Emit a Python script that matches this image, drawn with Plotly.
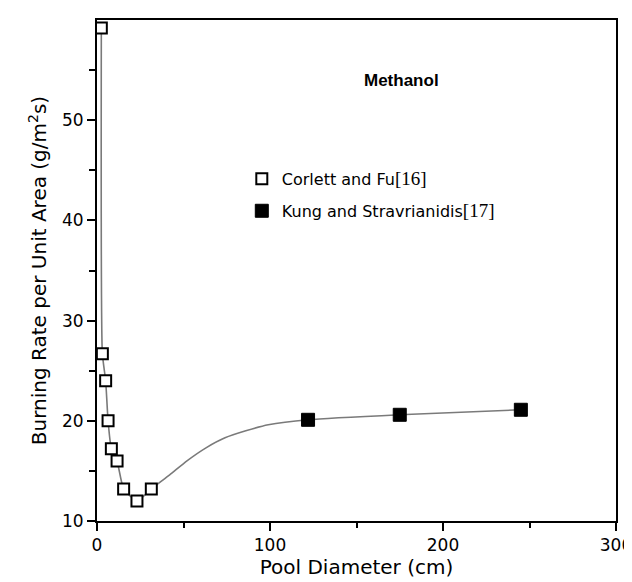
import plotly.graph_objects as go

# Corlett and Fu [16] (open squares)
cf_diam = [2.5, 3.1, 5.0, 6.4, 8.3, 11.6, 15.4, 23.1, 31.4]
cf_rate = [59.2, 26.7, 24.0, 20.0, 17.2, 16.0, 13.2, 12.0, 13.2]

# Kung and Stavrianidis [17] (filled squares)
ks_diam = [122, 175, 245]
ks_rate = [20.1, 20.6, 21.1]

# Fitted curve drawn through the data
curve_diam = [2.5, 3.1, 5.0, 6.4, 8.3, 11.6, 15.4, 23.1, 31.4, 42, 52, 63, 74, 86, 99, 122, 175, 245]
curve_rate = [59.2, 26.7, 24.0, 20.0, 17.2, 16.0, 13.2, 12.0, 13.2, 14.6, 16.0, 17.3, 18.3, 19.0, 19.6, 20.1, 20.6, 21.1]

x_ticks = [0, 100, 200, 300]
y_ticks = [10, 20, 30, 40, 50]

FONT = "DejaVu Sans, Liberation Sans, sans-serif"
BOLD = "Liberation Sans, Arial, sans-serif"
REF = '<span style="font-family:Liberation Serif;font-size:19px">[{}]</span>'

fig = go.Figure()

fig.add_trace(go.Scatter(
    x=curve_diam, y=curve_rate, mode="lines",
    line=dict(color="#7a7a7a", width=1.6, shape="spline", smoothing=0.5),
    showlegend=False, hoverinfo="skip"))

fig.add_trace(go.Scatter(
    x=cf_diam, y=cf_rate, mode="markers",
    name="Corlett and Fu" + REF.format(16),
    marker=dict(symbol="square", size=11, color="white",
                line=dict(color="black", width=2)),
    legend="legend"))

fig.add_trace(go.Scatter(
    x=ks_diam, y=ks_rate, mode="markers",
    name="Kung and Stravrianidis" + REF.format(17),
    marker=dict(symbol="square", size=13, color="black",
                line=dict(color="black", width=1)),
    legend="legend2"))

fig.add_annotation(x=176, y=54.0, xref="x", yref="y", text="<b>Methanol</b>",
                   showarrow=False, font=dict(family=BOLD, size=17, color="black"))

fig.update_layout(
    width=632, height=582,
    margin=dict(l=89, r=24, t=12, b=69),
    paper_bgcolor="white", plot_bgcolor="white",
    font=dict(family=FONT, size=16, color="black"),
    legend=dict(x=0.279, y=0.683, xanchor="left", yanchor="middle",
                bgcolor="rgba(0,0,0,0)", font=dict(family=FONT, size=16, color="black")),
    legend2=dict(x=0.279, y=0.619, xanchor="left", yanchor="middle",
                 bgcolor="rgba(0,0,0,0)", font=dict(family=FONT, size=16, color="black")),
)

fig.update_xaxes(
    range=[0, 300], tickvals=x_ticks, ticktext=[str(v) for v in x_ticks],
    showline=True, linecolor="black", linewidth=2, mirror=True,
    ticks="outside", ticklen=8, tickwidth=2, tickcolor="black",
    minor=dict(tickvals=[50, 150, 250], ticks="outside", ticklen=5, tickwidth=2, tickcolor="black"),
    showgrid=False, zeroline=False, automargin=False,
    tickfont=dict(family=FONT, size=17),
    title=dict(text="Pool Diameter (cm)", font=dict(family=FONT, size=20), standoff=5),
)
fig.update_yaxes(
    range=[10, 60], tickvals=y_ticks, ticktext=[str(v) for v in y_ticks],
    showline=True, linecolor="black", linewidth=2, mirror=True,
    ticks="outside", ticklen=8, tickwidth=2, tickcolor="black",
    minor=dict(tickvals=[15, 25, 35, 45, 55], ticks="outside", ticklen=6, tickwidth=2, tickcolor="black"),
    showgrid=False, zeroline=False, automargin=False,
    tickfont=dict(family=FONT, size=17),
    title=dict(text="Burning Rate per Unit Area (g/m<sup>2</sup>s)", font=dict(family=FONT, size=20), standoff=10),
)

fig.write_html("out.html")
